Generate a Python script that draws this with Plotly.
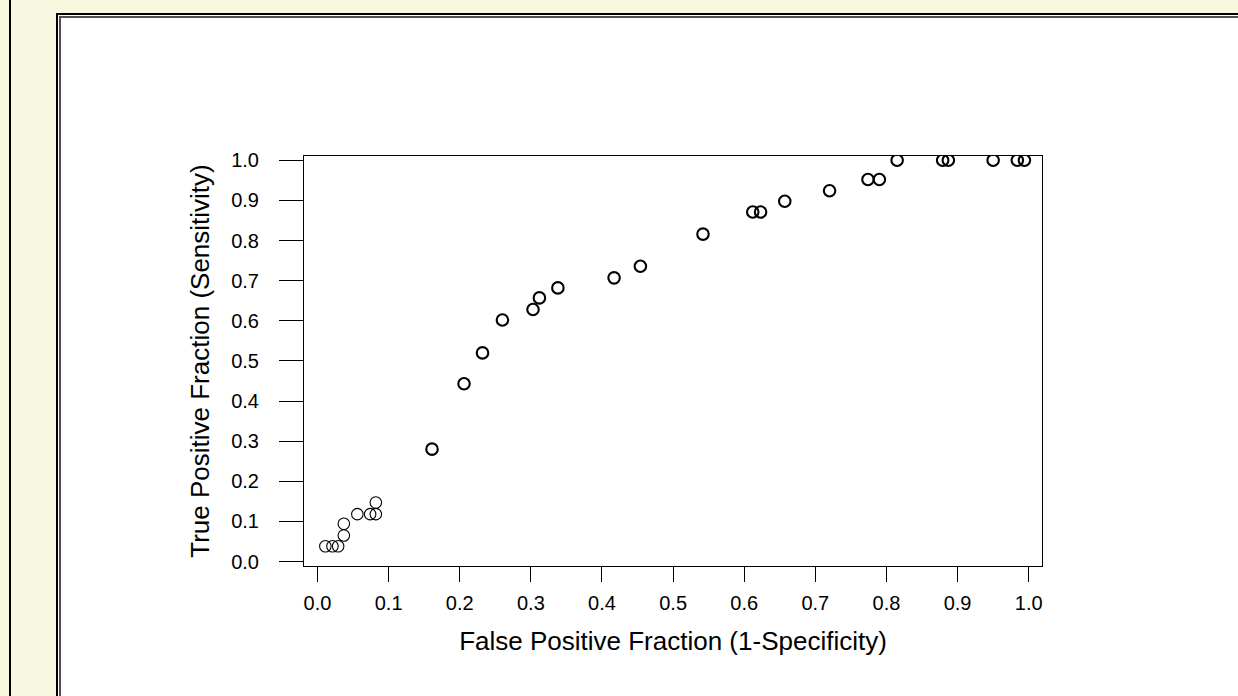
import numpy as np
import plotly.graph_objects as go

# ROC points (False / True positive fractions)
fpf = [0.011, 0.021, 0.029, 0.037, 0.037, 0.056, 0.074, 0.082, 0.082,
       0.161, 0.206, 0.232, 0.260, 0.303, 0.312, 0.338, 0.417, 0.454,
       0.542, 0.612, 0.623, 0.657, 0.720, 0.774, 0.790,
       0.815, 0.879, 0.887, 0.950, 0.984, 0.994]
tpf = [0.038, 0.038, 0.038, 0.065, 0.094, 0.118, 0.118, 0.118, 0.147,
       0.280, 0.443, 0.520, 0.602, 0.628, 0.657, 0.682, 0.707, 0.736,
       0.816, 0.871, 0.871, 0.898, 0.924, 0.952, 0.952,
       1.0, 1.0, 1.0, 1.0, 1.0, 1.0]
# number of overplotted observations at each point
n_obs = [1, 1, 1, 1, 1, 1, 1, 1, 1,
         2, 2, 2, 2, 2, 2, 2, 2, 2,
         2, 2, 2, 2, 2, 2, 2,
         2, 2, 2, 2, 2, 2]
tick_vals = [0.0, 0.1, 0.2, 0.3, 0.4, 0.5, 0.6, 0.7, 0.8, 0.9, 1.0]
tick_text = ["0.0", "0.1", "0.2", "0.3", "0.4", "0.5", "0.6", "0.7", "0.8", "0.9", "1.0"]

W, H = 1238, 696
L, R, T, B = 304, 196, 156, 130
PW, PH = W - L - R, H - T - B

def px(x):
    return (x - L) / PW

def py(y):
    return (H - B - y) / PH

FONT = "Liberation Sans, Arial, sans-serif"
CREAM = "#F8F8E0"

widths = [1.1 if n == 1 else 2.1 for n in n_obs]

fig = go.Figure()
fig.add_trace(go.Scatter(
    x=fpf, y=tpf, mode="markers",
    marker=dict(symbol="circle-open", size=11.5, color="black",
                line=dict(width=widths, color="black")),
    showlegend=False, hoverinfo="x+y"))

shapes = [
    # left black rule
    dict(type="line", xref="paper", yref="paper", x0=px(10), x1=px(10), y0=py(-5), y1=py(H + 5),
         line=dict(color="black", width=2), layer="below"),
    # white panel with double border
    dict(type="rect", xref="paper", yref="paper", x0=px(57), x1=px(W + 20), y0=py(14), y1=py(H + 20),
         fillcolor="white", line=dict(color="black", width=2), layer="below"),
    dict(type="rect", xref="paper", yref="paper", x0=px(60), x1=px(W + 20), y0=py(17), y1=py(H + 20),
         fillcolor="rgba(0,0,0,0)", line=dict(color="#505050", width=2), layer="below"),
]

fig.update_layout(
    width=W, height=H,
    margin=dict(l=L, r=R, t=T, b=B, pad=0),
    paper_bgcolor=CREAM,
    plot_bgcolor="white",
    shapes=shapes,
    font=dict(family=FONT, color="black"),
    xaxis=dict(range=[-0.019, 1.0187], tickvals=tick_vals, ticktext=tick_text,
               showgrid=False, zeroline=False, showline=True, mirror=True,
               linecolor="black", linewidth=1, ticks="outside", ticklen=15,
               tickcolor="black", tickwidth=1, tickfont=dict(size=20),
               ticklabelstandoff=4,
               title=dict(text="False Positive Fraction (1-Specificity)", font=dict(size=26), standoff=18)),
    yaxis=dict(range=[-0.0112, 1.0107], tickvals=tick_vals, ticktext=tick_text,
               showgrid=False, zeroline=False, showline=True, mirror=True,
               linecolor="black", linewidth=1, ticks="outside", ticklen=24,
               tickcolor="black", tickwidth=1, tickfont=dict(size=20),
               ticklabelstandoff=16,
               title=dict(text="True Positive Fraction (Sensitivity)", font=dict(size=26), standoff=14)),
)

fig.write_html("out.html",
               config={"displayModeBar": False},
               post_script="document.body.style.margin='0px';"
                           "document.body.style.background='" + CREAM + "';"
                           "document.documentElement.style.overflow='hidden';")
